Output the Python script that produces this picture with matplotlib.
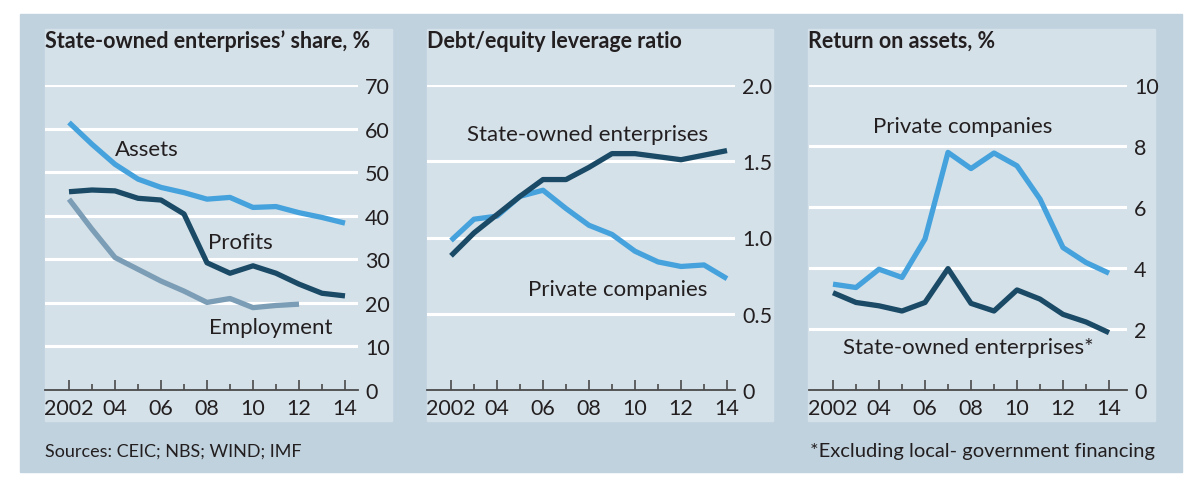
import matplotlib.pyplot as plt
from matplotlib.patches import Rectangle

# --- DADOS ---
anos = list(range(2002, 2015))
anos_emprego = list(range(2002, 2013))

ativos = [61.4, 56.4, 51.8, 48.4, 46.5, 45.3, 43.8, 44.2, 41.9, 42.1, 40.7, 39.6, 38.3]
lucros = [45.5, 45.9, 45.7, 44.0, 43.6, 40.4, 29.2, 26.8, 28.5, 26.8, 24.3, 22.2, 21.6]
emprego = [43.8, 36.9, 30.4, 27.7, 25.0, 22.7, 20.1, 21.0, 18.9, 19.4, 19.7]

alav_estatais = [0.88, 1.03, 1.15, 1.27, 1.38, 1.38, 1.46, 1.55, 1.55, 1.53, 1.51, 1.54, 1.57]
alav_privadas = [0.98, 1.12, 1.14, 1.27, 1.31, 1.19, 1.08, 1.02, 0.91, 0.84, 0.81, 0.82, 0.73]

roa_privadas = [3.47, 3.36, 3.96, 3.69, 4.95, 7.79, 7.26, 7.77, 7.35, 6.26, 4.67, 4.18, 3.83]
roa_estatais = [3.19, 2.87, 2.76, 2.59, 2.87, 3.98, 2.84, 2.59, 3.28, 2.98, 2.48, 2.23, 1.88]

anos_maiores = [2002, 2004, 2006, 2008, 2010, 2012, 2014]
rotulos_anos = ['2002', '04', '06', '08', '10', '12', '14']

# --- CORES ---
AZUL_CLARO = '#46a2dc'
AZUL_ESCURO = '#1a4a66'
CINZA_AZUL = '#7b9db5'
FUNDO_EXT = '#c0d2de'
FUNDO_INT = '#d5e1e9'
TEXTO = '#231f20'

plt.rcParams['font.family'] = ['Lato', 'DejaVu Sans']

W, H = 1200, 489
fig = plt.figure(figsize=(W / 100, H / 100), dpi=100)
fig.patch.set_facecolor('white')


def px(x0, y0, x1, y1):
    # caixa em pixels (origem no topo) -> fracao da figura
    return [x0 / W, 1 - y1 / H, (x1 - x0) / W, (y1 - y0) / H]


# fundo externo e paineis internos
fig.patches.append(Rectangle((20 / W, 1 - 473 / H), 1162 / W, 458 / H,
                             transform=fig.transFigure, color=FUNDO_EXT, zorder=-2))
for x0, x1 in [(45, 392), (427, 773), (808, 1155)]:
    fig.patches.append(Rectangle((x0 / W, 1 - 422 / H), (x1 - x0) / W, 392 / H,
                                 transform=fig.transFigure, color=FUNDO_INT, zorder=-1))


def preparar_eixo(caixa, ymax, yticks, ylabels, x_esq, x_dir):
    ax = fig.add_axes(px(*caixa))
    ax.set_facecolor('none')
    ax.set_xlim(x_esq, x_dir)
    ax.set_ylim(0, ymax)
    for lado in ['top', 'right', 'left']:
        ax.spines[lado].set_visible(False)
    ax.spines['bottom'].set_color('#4a4a4a')
    ax.spines['bottom'].set_linewidth(1.3)
    ax.set_yticks(yticks)
    ax.set_yticklabels(ylabels, fontsize=15.5, color=TEXTO)
    ax.yaxis.tick_right()
    ax.tick_params(axis='y', length=0, pad=5)
    for v in yticks[1:]:
        ax.axhline(v, color='white', lw=2.2, zorder=0.5)
    ax.set_xticks(anos_maiores)
    ax.set_xticklabels(rotulos_anos, fontsize=15.5, color=TEXTO)
    ax.set_xticks([a for a in anos if a not in anos_maiores], minor=True)
    ax.tick_params(axis='x', which='major', direction='in', length=7.5, width=1.2,
                   color='#4a4a4a', pad=6)
    ax.tick_params(axis='x', which='minor', direction='in', length=4, width=1.2,
                   color='#4a4a4a')
    return ax


# --- Painel 1 ---
ax1 = preparar_eixo((45, 86, 358, 391), 70, [0, 10, 20, 30, 40, 50, 60, 70],
                    ['0', '10', '20', '30', '40', '50', '60', '70'],
                    2002 - 24 / 23, 2014 + 13 / 23)
ax1.plot(anos_emprego, emprego, color=CINZA_AZUL, lw=3.8, solid_capstyle='butt')
ax1.plot(anos, ativos, color=AZUL_CLARO, lw=3.8, solid_capstyle='butt')
ax1.plot(anos, lucros, color=AZUL_ESCURO, lw=3.8, solid_capstyle='butt')
ax1.text(2004.0, 55.3, 'Assets', fontsize=16, color=TEXTO, va='center')
ax1.text(2008.05, 34.0, 'Profits', fontsize=16, color=TEXTO, va='center')
ax1.text(2008.1, 14.5, 'Employment', fontsize=16, color=TEXTO, va='center')

# --- Painel 2 ---
ax2 = preparar_eixo((427, 86, 735, 391), 2.0, [0, 0.5, 1.0, 1.5, 2.0],
                    ['0', '0.5', '1.0', '1.5', '2.0'],
                    2002 - 24 / 23, 2014 + 8 / 23)
ax2.plot(anos, alav_privadas, color=AZUL_CLARO, lw=3.8, solid_capstyle='butt')
ax2.plot(anos, alav_estatais, color=AZUL_ESCURO, lw=3.8, solid_capstyle='butt')
ax2.text(2002.7, 1.68, 'State-owned enterprises', fontsize=16, color=TEXTO, va='center')
ax2.text(2005.35, 0.66, 'Private companies', fontsize=16, color=TEXTO, va='center')

# --- Painel 3 ---
ax3 = preparar_eixo((809, 86, 1127, 391), 10, [0, 2, 4, 6, 8, 10],
                    ['0', '2', '4', '6', '8', '10'],
                    2002 - 24 / 23, 2014 + 18 / 23)
ax3.plot(anos, roa_privadas, color=AZUL_CLARO, lw=3.8, solid_capstyle='butt')
ax3.plot(anos, roa_estatais, color=AZUL_ESCURO, lw=3.8, solid_capstyle='butt')
ax3.text(2003.74, 8.66, 'Private companies', fontsize=16, color=TEXTO, va='center')
ax3.text(2002.43, 1.41, 'State-owned enterprises*', fontsize=16, color=TEXTO, va='center')

# --- Titulos e notas ---
for x, titulo in [(45, 'State-owned enterprises\u2019 share, %'),
                  (427, 'Debt/equity leverage ratio'),
                  (808, 'Return on assets, %')]:
    fig.text(x / W, 1 - 48 / H, titulo, fontsize=15.5, fontweight='bold',
             color=TEXTO, va='baseline', ha='left')

fig.text(45 / W, 1 - 452 / H, 'Sources: CEIC; NBS; WIND; IMF', fontsize=13,
         color=TEXTO, va='center', ha='left')
fig.text(1155 / W, 1 - 452 / H, '*Excluding local- government financing', fontsize=14.5,
         color=TEXTO, va='center', ha='right')

fig.savefig('out.png', dpi=100)
